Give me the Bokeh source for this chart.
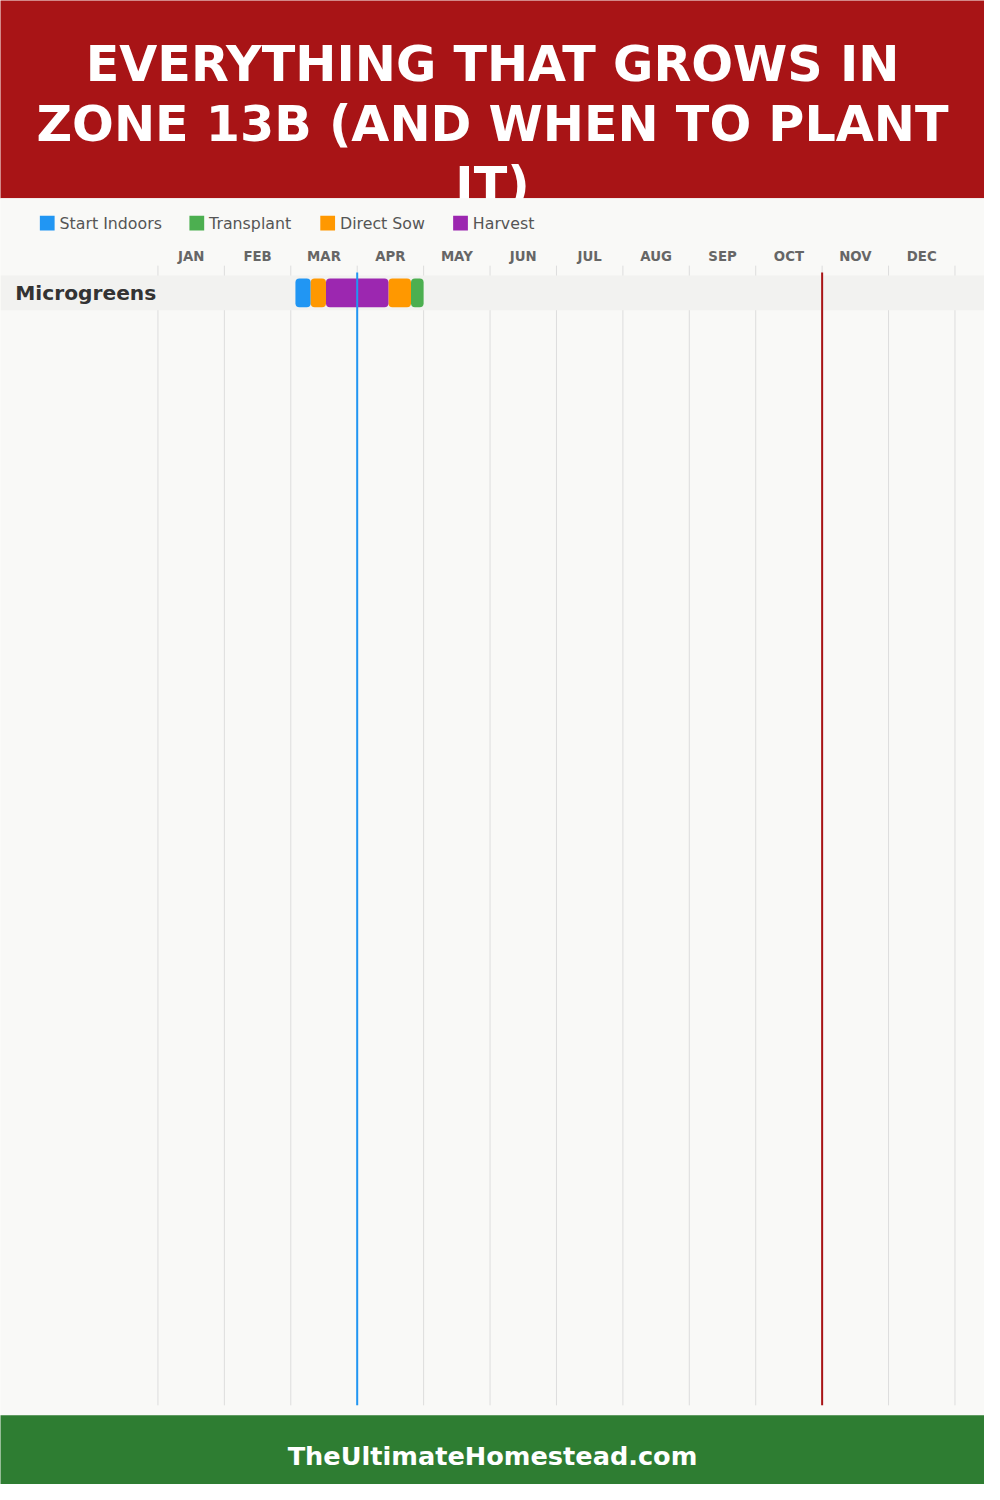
from bokeh.plotting import figure
from bokeh.models import Range1d, ColumnDataSource
from bokeh.core.properties import value
from bokeh.embed import file_html
from bokeh.resources import INLINE

# ---------------- data ----------------
title_lines = ["EVERYTHING THAT GROWS IN", "ZONE 13B (AND WHEN TO PLANT", "IT)"]
months = ["JAN", "FEB", "MAR", "APR", "MAY", "JUN", "JUL", "AUG", "SEP", "OCT", "NOV", "DEC"]
crops = ["Microgreens"]
legend_labels = ["Start Indoors", "Transplant", "Direct Sow", "Harvest"]
legend_colors = ["#2196F3", "#4CAF50", "#FF9800", "#9C27B0"]

# month offsets from Jan 1 (1.0 = one month)
start_indoors_start = [2.07]
start_indoors_end = [2.30]
direct_sow_start = [2.30, 3.47]
direct_sow_end = [2.53, 3.81]
harvest_start = [2.53]
harvest_end = [3.47]
transplant_start = [3.81]
transplant_end = [4.00]
last_frost = 3.0
first_frost = 10.0
footer_text = "TheUltimateHomestead.com"

# ---------------- layout helpers (reference pixels, scaled to fit) ----------------
X0 = 160.0        # left edge of JAN column
MW = 67.5         # month column width
ROW_TOP = 278.0
ROW_H = 35.0
BAR_H = 29.0
S = 0.985         # font scale (figure is 984 px for 1000 reference px)

def rx(px):
    return (px - X0) / MW

def fs(px):
    return f"{px * S:.1f}px"

W, H = 984, 1484
p = figure(width=W, height=H, output_backend="svg", toolbar_location=None,
           x_range=Range1d(rx(0), rx(1000)), y_range=Range1d(1500, 0),
           min_border=0, min_border_left=0, min_border_right=0,
           min_border_top=0, min_border_bottom=0)
p.axis.visible = False
p.grid.visible = False
p.outline_line_color = None
p.background_fill_color = "#F9F9F7"
p.border_fill_color = "#F9F9F7"

XL, XR = rx(-20), rx(1020)

# title band
p.quad(left=XL, right=XR, top=-20, bottom=200, fill_color="#A81416", line_color=None)
for i, t in enumerate(title_lines):
    p.text(x=[rx(500)], y=[64 + 61 * i], text=[t], text_color="white",
           text_font=value("DejaVu Sans"), text_font_style="bold",
           text_font_size=fs(50), text_align="center", text_baseline="middle")

# chart background (covers overflowing title line)
p.quad(left=XL, right=XR, top=200, bottom=1430, fill_color="#F9F9F7", line_color=None)

# legend
leg_sq_x = [40, 192, 325, 460]
for lx, lab, col in zip(leg_sq_x, legend_labels, legend_colors):
    p.quad(left=rx(lx), right=rx(lx + 15), top=217.5, bottom=232.5,
           fill_color=col, line_color=None)
    p.text(x=[rx(lx + 20)], y=[225.5], text=[lab], text_color="#555555",
           text_font=value("DejaVu Sans"), text_font_size=fs(16),
           text_align="left", text_baseline="middle")

# month labels
p.text(x=[i + 0.5 for i in range(len(months))], y=[259] * len(months), text=months,
       text_color="#666666", text_font=value("DejaVu Sans"), text_font_style="bold",
       text_font_size=fs(13.5), text_align="center", text_baseline="middle")

# month grid lines
gx = list(range(len(months) + 1))
p.segment(x0=gx, y0=[268] * len(gx), x1=gx, y1=[1420] * len(gx),
          line_color="#DDDDDD", line_width=1)

# row bands and labels
row_y = [ROW_TOP + ROW_H * (i + 0.5) for i in range(len(crops))]
p.hbar(y=row_y, left=XL, right=XR, height=ROW_H, fill_color="#F2F2F0", line_color=None)
p.text(x=[rx(15)] * len(crops), y=row_y, text=crops, text_color="#333333",
       text_font=value("DejaVu Sans"), text_font_style="bold", text_font_size=fs(20.5),
       text_align="left", text_baseline="middle")

# bars
def bars(starts, ends, color, row=0):
    src = ColumnDataSource(dict(y=[row_y[row]] * len(starts), left=starts, right=ends))
    p.hbar(y="y", left="left", right="right", height=BAR_H, source=src,
           fill_color=color, line_color=None, border_radius=4)

bars(start_indoors_start, start_indoors_end, legend_colors[0])
bars(direct_sow_start, direct_sow_end, legend_colors[2])
bars(harvest_start, harvest_end, legend_colors[3])
bars(transplant_start, transplant_end, legend_colors[1])

# frost lines
p.segment(x0=[last_frost], y0=[275], x1=[last_frost], y1=[1420], line_color="#2196F3", line_width=2)
p.segment(x0=[first_frost], y0=[275], x1=[first_frost], y1=[1420], line_color="#A81416", line_width=2)

# footer
p.quad(left=XL, right=XR, top=1430, bottom=1520, fill_color="#2E7D32", line_color=None)
p.text(x=[rx(500)], y=[1471], text=[footer_text], text_color="white",
       text_font=value("DejaVu Sans"), text_font_style="bold", text_font_size=fs(26),
       text_align="center", text_baseline="middle")

open("out.html", "w").write(file_html(p, INLINE))
